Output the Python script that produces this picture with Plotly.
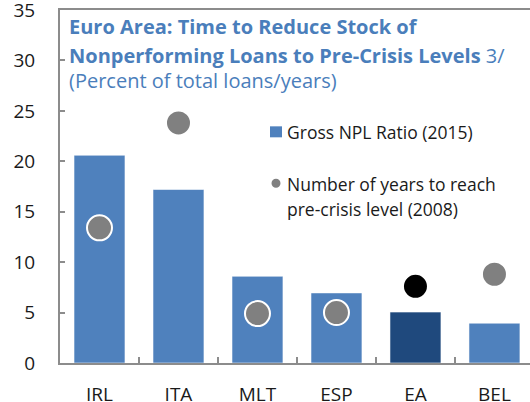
import plotly.graph_objects as go

# Euro Area NPL data
countries = ["IRL", "ITA", "MLT", "ESP", "EA", "BEL"]
npl_ratio_2015 = [20.6, 17.2, 8.6, 6.95, 5.05, 3.95]
years_to_precrisis = [13.4, 23.8, 4.9, 5.0, 7.6, 8.8]
bar_colors = ["#4F81BD", "#4F81BD", "#4F81BD", "#4F81BD", "#1F497D", "#4F81BD"]
dot_colors = ["#808080", "#808080", "#808080", "#808080", "#000000", "#808080"]
y_ticks = [0, 5, 10, 15, 20, 25, 30, 35]

FONT = "Open Sans"
TITLE_BLUE = "#4A7EBB"
AXIS_GREY = "#8C8C8C"
TEXT = "#1A1A1A"

fig = go.Figure()
fig.add_trace(go.Bar(
    x=countries, y=npl_ratio_2015,
    marker=dict(color=bar_colors, line=dict(color="rgba(255,255,255,0.55)", width=1)),
    name="Gross NPL Ratio (2015)",
    showlegend=False,
))
fig.add_trace(go.Scatter(
    x=countries, y=years_to_precrisis, mode="markers",
    marker=dict(color=dot_colors, size=25, line=dict(color="white", width=2)),
    name="Number of years to reach pre-crisis level (2008)",
    showlegend=False,
))

# plot area geometry (pixels) used to place title/legend in paper coords
L, R, T, B = 60, 530, 9.5, 363
W, H = R - L, B - T
px = lambda x: (x - L) / W
py = lambda y: (B - y) / H

annotations = [
    dict(text="<b>Euro Area: Time to Reduce Stock of</b>", x=px(67), y=py(26.5)),
    dict(text="<b>Nonperforming Loans to Pre-Crisis Levels</b> 3/", x=px(67), y=py(55.5)),
    dict(text="(Percent of total loans/years)", x=px(67), y=py(80.5)),
]
for a in annotations:
    a.update(xref="paper", yref="paper", xanchor="left", yanchor="middle",
             showarrow=False, font=dict(family=FONT, size=20, color=TITLE_BLUE))

legend_text = [
    ("Gross NPL Ratio (2015)", 132),
    ("Number of years to reach", 184),
    ("pre-crisis level (2008)", 209),
]
for txt, yy in legend_text:
    annotations.append(dict(text=txt, x=px(285), y=py(yy), xref="paper", yref="paper",
                            xanchor="left", yanchor="middle", showarrow=False,
                            font=dict(family=FONT, size=17.5, color=TEXT)))

shapes = [
    dict(type="rect", xref="paper", yref="paper", x0=px(270), x1=px(282),
         y0=py(137), y1=py(126), fillcolor="#4F81BD", line=dict(width=0)),
    dict(type="circle", xref="paper", yref="paper", x0=px(271.5), x1=px(280.5),
         y0=py(187.5), y1=py(178.5), fillcolor="#808080", line=dict(width=0)),
]

fig.update_layout(
    width=530, height=402,
    margin=dict(l=L, r=0, t=T, b=402 - B),
    paper_bgcolor="white", plot_bgcolor="white",
    bargap=0.355,
    annotations=annotations,
    shapes=shapes,
    font=dict(family=FONT, size=19, color=TEXT),
)
fig.update_xaxes(
    type="category", range=[-0.5, 5.45], automargin=False,
    showline=True, linecolor=AXIS_GREY, linewidth=2, mirror=True,
    ticks="inside", tickson="boundaries", ticklen=6, tickcolor=AXIS_GREY, tickwidth=2,
    ticklabelstandoff=13, showgrid=False, tickfont=dict(family=FONT, size=19, color=TEXT),
)
fig.update_yaxes(
    range=[0, 35.001], tickvals=y_ticks, ticklabeloverflow="allow", automargin=False,
    showline=True, linecolor=AXIS_GREY, linewidth=2,
    ticks="inside", ticklen=5, tickcolor=AXIS_GREY, tickwidth=1.5,
    ticklabelstandoff=19, showgrid=False, zeroline=False,
    tickfont=dict(family=FONT, size=19, color=TEXT),
)

fig.write_html("out.html")
